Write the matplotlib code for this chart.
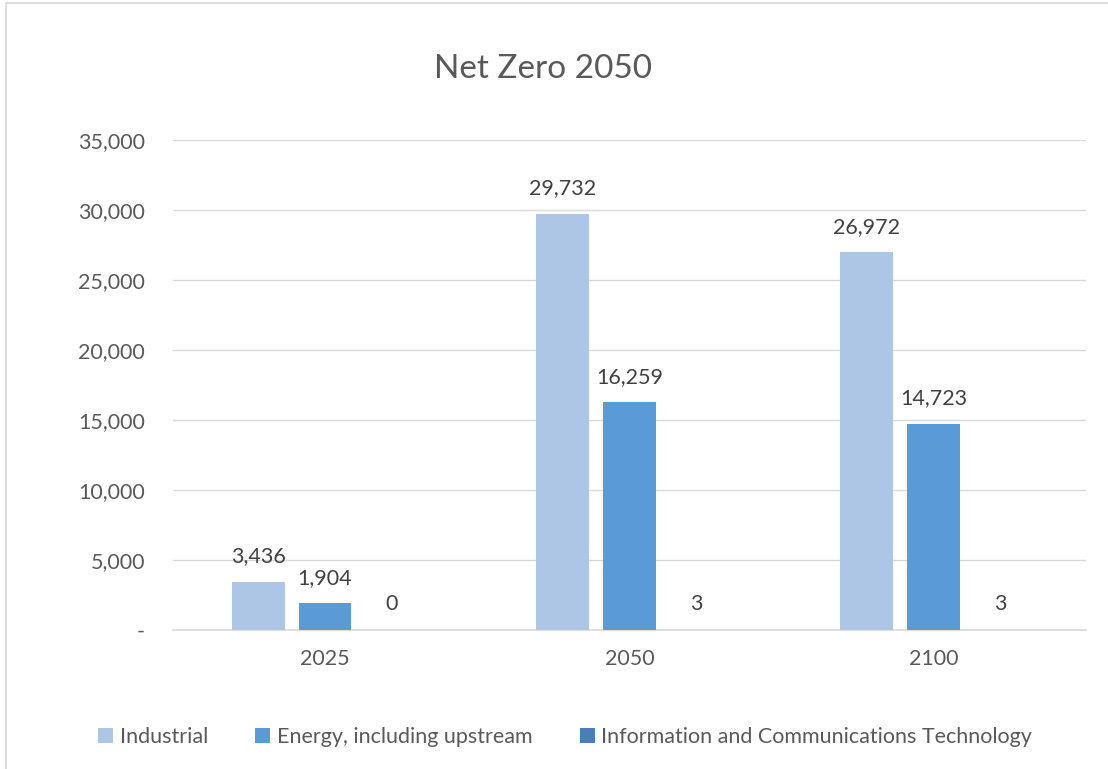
import numpy as np
import matplotlib.pyplot as plt
from matplotlib.patches import Rectangle

years = ["2025", "2050", "2100"]
series = ["Industrial", "Energy, including upstream",
          "Information and Communications Technology"]
industrial = [3436, 29732, 26972]
energy = [1904, 16259, 14723]
ict = [0, 3, 3]
colors = ["#AEC6E6", "#5B9BD5", "#4A7EB5"]
yticks = [0, 5000, 10000, 15000, 20000, 25000, 30000, 35000]

plt.rcParams['font.family'] = ['Lato', 'DejaVu Sans']
txt = "#595959"

fig = plt.figure(figsize=(11.08, 7.69), dpi=100)
fig.patches.append(Rectangle((0.005, -0.01), 1.2, 1.006, transform=fig.transFigure,
                             fill=False, edgecolor="#D9D9D9", linewidth=1.2))
ax = fig.add_axes([0.156, 0.181, 0.824, 0.637])

x = np.arange(len(years))
w = 0.174
step = 0.22
for i, (vals, name) in enumerate(zip([industrial, energy, ict], series)):
    pos = x + (i - 1) * step
    ax.bar(pos, vals, width=w, color=colors[i], label=name, zorder=3)
    for p, v in zip(pos, vals):
        ax.text(p, v + 1100, f"{v:,}", ha="center", va="bottom",
                fontsize=15.5, color="#404040")

ax.set_xlim(-0.5, 2.5)
ax.set_ylim(0, 35000)
ax.set_yticks(yticks)
ax.set_yticklabels([f"{t:,}" if t else "-" for t in yticks])
ax.set_xticks(x)
ax.set_xticklabels(years)
ax.grid(axis="y", color="#D9D9D9", linewidth=1, zorder=0)
for s in ["top", "right", "left"]:
    ax.spines[s].set_visible(False)
ax.spines["bottom"].set_color("#D9D9D9")
ax.spines["bottom"].set_linewidth(1.2)
ax.tick_params(length=0, labelsize=15.5, colors=txt, pad=14)
ax.tick_params(axis="y", pad=20)

fig.suptitle("Net Zero 2050", x=0.49, y=0.93, fontsize=24, color=txt)
fig.legend(loc="lower center", bbox_to_anchor=(0.51, 0.003), ncol=3, frameon=False,
           fontsize=15.5, labelcolor=txt, handlelength=0.7, handleheight=0.7,
           handletextpad=0.3, columnspacing=2.2)

fig.savefig("out.png", dpi=100)
